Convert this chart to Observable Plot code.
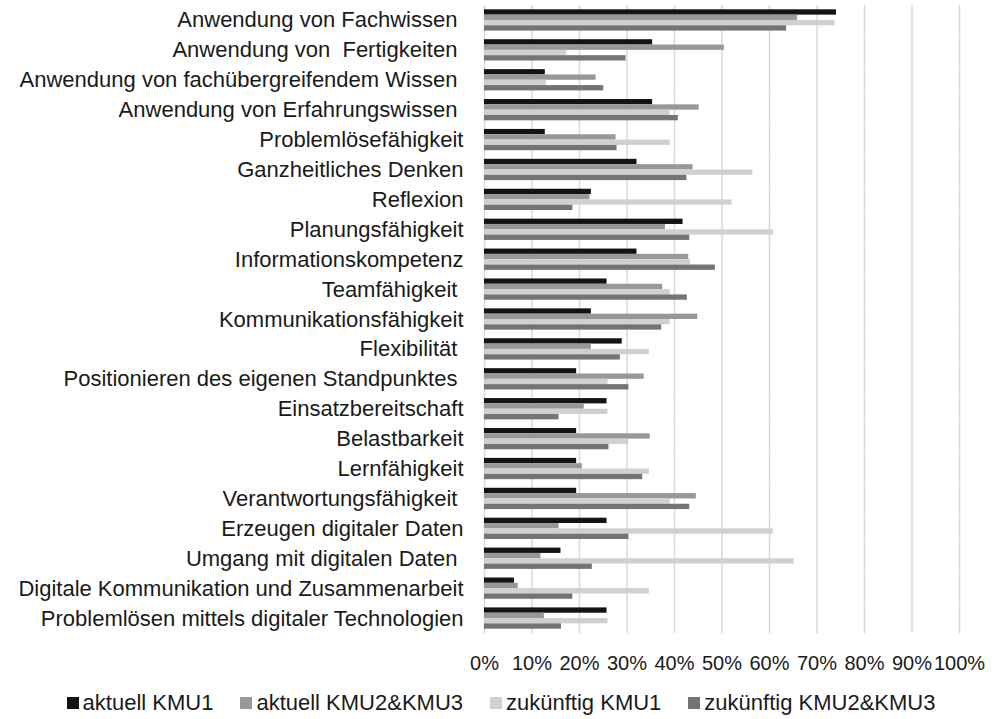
<!DOCTYPE html>
<html><head><meta charset="utf-8">
<script src="https://cdn.jsdelivr.net/npm/d3@7"></script>
<script src="https://cdn.jsdelivr.net/npm/@observablehq/plot@0.6"></script>
<style>
body{margin:0;background:#fff;font-family:"Liberation Sans",Arial,sans-serif;}
#chart svg text{white-space:pre;}
.legend{display:flex;justify-content:center;gap:27px;font-size:22px;color:#1a1a1a;height:30px;margin-top:8px;align-items:center;}
.legend .item{display:flex;align-items:center;}
.legend .sw{display:inline-block;width:12px;height:12px;margin-right:4px;}
</style></head><body><div id="chart"></div><div id="legend" class="legend"></div><script>
const categories = [
  "Anwendung von Fachwissen ",
  "Anwendung von  Fertigkeiten ",
  "Anwendung von fachübergreifendem Wissen ",
  "Anwendung von Erfahrungswissen ",
  "Problemlösefähigkeit",
  "Ganzheitliches Denken",
  "Reflexion",
  "Planungsfähigkeit",
  "Informationskompetenz",
  "Teamfähigkeit ",
  "Kommunikationsfähigkeit",
  "Flexibilität ",
  "Positionieren des eigenen Standpunktes ",
  "Einsatzbereitschaft",
  "Belastbarkeit",
  "Lernfähigkeit",
  "Verantwortungsfähigkeit ",
  "Erzeugen digitaler Daten",
  "Umgang mit digitalen Daten ",
  "Digitale Kommunikation und Zusammenarbeit",
  "Problemlösen mittels digitaler Technologien"
];
const series = ["aktuell KMU1", "aktuell KMU2&KMU3", "zukünftig KMU1", "zukünftig KMU2&KMU3"];
const aktuellKMU1 =      [74.1, 35.4, 12.8, 35.4, 12.8, 32.1, 22.5, 41.8, 32.1, 25.8, 22.5, 29.0, 19.4, 25.8, 19.4, 19.4, 19.4, 25.8, 16.1, 6.3, 25.8];
const aktuellKMU23 =     [65.9, 50.5, 23.5, 45.2, 27.7, 43.9, 22.2, 38.1, 43.0, 37.5, 44.9, 22.5, 33.6, 21.0, 34.9, 20.6, 44.6, 15.7, 11.9, 7.1, 12.6];
const zukuenftigKMU1 =   [73.8, 17.3, 13.0, 39.1, 39.1, 56.5, 52.1, 60.8, 43.4, 39.1, 39.1, 34.7, 26.0, 26.0, 30.4, 34.7, 39.1, 60.8, 65.2, 34.7, 26.0];
const zukuenftigKMU23 =  [63.6, 29.8, 25.1, 40.8, 27.9, 42.6, 18.6, 43.2, 48.6, 42.7, 37.3, 28.6, 30.4, 15.7, 26.2, 33.3, 43.2, 30.4, 22.7, 18.6, 16.2];
const xTicks = [0, 10, 20, 30, 40, 50, 60, 70, 80, 90, 100];
const colors = ["#141414", "#989898", "#d0d0d0", "#747474"];

const seriesValues = [aktuellKMU1, aktuellKMU23, zukuenftigKMU1, zukuenftigKMU23];
const data = categories.flatMap((c, i) => series.map((s, j) => ({category: c, series: s, value: seriesValues[j][i]})));

const chart = Plot.plot({
  width: 1002,
  height: 680,
  marginLeft: 484,
  marginRight: 43,
  marginTop: 5,
  marginBottom: 47,
  style: {fontFamily: "Liberation Sans, Arial, sans-serif", fontSize: "20px", color: "#1a1a1a", background: "#fff"},
  x: {domain: [0, 100]},
  fy: {domain: categories, padding: 0, round: false},
  y: {domain: series, paddingInner: 0, paddingOuter: 0.81, round: false, axis: null},
  color: {domain: series, range: colors},
  marks: [
    Plot.ruleX(xTicks, {stroke: "#d9d9d9", strokeWidth: 1.5}),
    Plot.barX(data, {x: "value", y: "series", fy: "category", fill: "series"}),
    Plot.axisX({ticks: xTicks, tickFormat: d => d + "%", tickSize: 0, tickPadding: 22, fontSize: 20, label: null}),
    Plot.axisFy({anchor: "left", tickSize: 0, tickPadding: 21, fontSize: 22, label: null})
  ]
});
document.getElementById("chart").appendChild(chart);

const legend = document.getElementById("legend");
series.forEach((s, j) => {
  const item = document.createElement("span");
  item.className = "item";
  const sw = document.createElement("span");
  sw.className = "sw";
  sw.style.background = colors[j];
  item.appendChild(sw);
  item.appendChild(document.createTextNode(s));
  legend.appendChild(item);
});
</script></body></html>
